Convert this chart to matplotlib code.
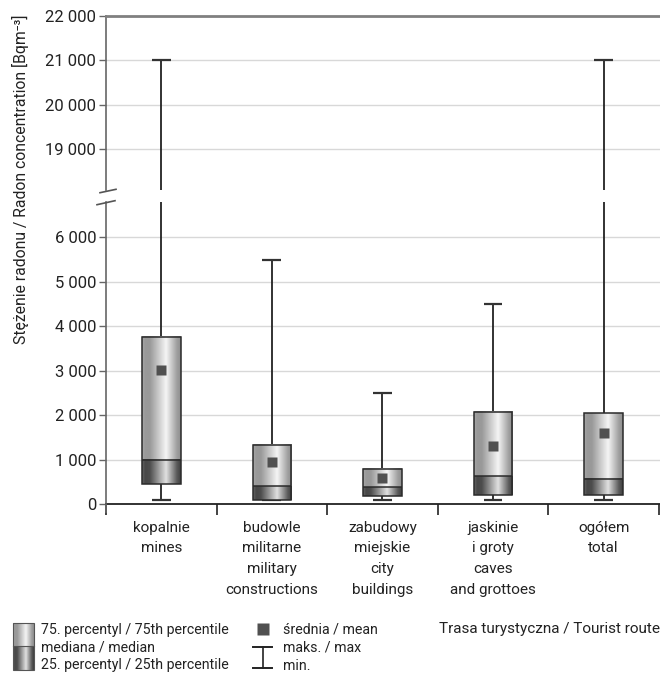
import numpy as np
import matplotlib
matplotlib.use("Agg")
import matplotlib.pyplot as plt
from matplotlib.lines import Line2D
from matplotlib.patches import Rectangle

plt.rcParams['font.family'] = ['Liberation Sans Narrow', 'Roboto', 'DejaVu Sans']

categories = ["kopalnie\nmines", "budowle\nmilitarne\nmilitary\nconstructions",
              "zabudowy\nmiejskie\ncity\nbuildings", "jaskinie\ni groty\ncaves\nand grottoes",
              "ogółem\ntotal"]
q1 = [440, 100, 190, 210, 195]
median = [980, 400, 375, 620, 570]
q3 = [3760, 1330, 780, 2080, 2040]
mins = [90, 80, 90, 90, 90]
maxs = [21000, 5500, 2500, 4500, 21000]
means = [3020, 950, 590, 1310, 1600]

lower_ticks = [0, 1000, 2000, 3000, 4000, 5000, 6000]
upper_ticks = [19000, 20000, 21000, 22000]

W, H = 660, 674
fig = plt.figure(figsize=(W / 100, H / 100), dpi=100)

def frac(x0, y0, x1, y1):
    return [x0 / W, 1 - y1 / H, (x1 - x0) / W, (y1 - y0) / H]

ax_lo = fig.add_axes(frac(106, 202, 660, 504))
ax_hi = fig.add_axes(frac(106, 16, 660, 190), sharex=ax_lo)

def fmt(v):
    return f"{v:,}".replace(",", " ")

def grad(levels):
    pos = np.linspace(0, 1, 200)
    g = np.interp(pos, [0, 0.08, 0.2, 0.62, 0.9, 1.0], levels)
    return np.stack([g, g, g], axis=-1)[None, :, :]

upper_grad = grad([0.66, 0.6, 0.6, 0.96, 0.62, 0.56])
lower_grad = grad([0.4, 0.28, 0.3, 0.88, 0.35, 0.25])

bw = 0.35
cap = 0.085
for ax in (ax_lo, ax_hi):
    for i in range(len(categories)):
        c = i + 0.5
        ax.vlines(c, q3[i], maxs[i], color='#222222', lw=1.3, zorder=2)
        ax.vlines(c, mins[i], q1[i], color='#222222', lw=1.3, zorder=2)
        ax.hlines([maxs[i], mins[i]], c - cap, c + cap, color='#333333', lw=1.6, zorder=2)
        ax.imshow(upper_grad, extent=[c - bw / 2, c + bw / 2, median[i], q3[i]],
                  aspect='auto', interpolation='bilinear', zorder=3)
        ax.imshow(lower_grad, extent=[c - bw / 2, c + bw / 2, q1[i], median[i]],
                  aspect='auto', interpolation='bilinear', zorder=3)
        ax.add_patch(Rectangle((c - bw / 2, q1[i]), bw, q3[i] - q1[i], fill=False,
                               ec='#2a2a2a', lw=1.1, zorder=4))
        ax.hlines(median[i], c - bw / 2, c + bw / 2, color='#2a2a2a', lw=1.1, zorder=4)
        ax.plot(c, means[i], 's', ms=7.4, color='#505050', mec='none', zorder=5)

ax_lo.set_xlim(0, 5.01)
ax_lo.set_ylim(0, 6794)
ax_hi.set_ylim(18085, 22000)

for ax, ticks in ((ax_lo, lower_ticks), (ax_hi, upper_ticks)):
    ax.set_yticks(ticks)
    ax.set_yticklabels([fmt(t) for t in ticks], fontsize=12, color='#222222')
    ax.tick_params(axis='y', length=5, width=1, color='#666666', pad=2)
    for t in ticks:
        if t not in (0, 22000):
            ax.axhline(t, color='#d8d8d8', lw=1, zorder=0)
    ax.spines['right'].set_visible(False)
    ax.spines['left'].set_color('#666666')
    ax.spines['left'].set_linewidth(1.2)
    ax.set_facecolor('none')

ax_hi.spines['bottom'].set_visible(False)
ax_hi.spines['top'].set_color('#808080')
ax_hi.spines['top'].set_linewidth(2)
ax_hi.tick_params(axis='x', which='both', bottom=False, labelbottom=False)

ax_lo.spines['top'].set_visible(False)
ax_lo.spines['bottom'].set_color('#222222')
ax_lo.spines['bottom'].set_linewidth(1.3)
ax_lo.set_xticks([i + 0.5 for i in range(len(categories))])
ax_lo.set_xticklabels(categories, fontsize=11, color='#222222', linespacing=1.62)
ax_lo.set_xticks(range(len(categories) + 1), minor=True)
ax_lo.tick_params(axis='x', which='major', length=0, pad=12)
ax_lo.tick_params(axis='x', which='minor', length=8, width=1.2, color='#222222')

ov = fig.add_axes([0, 0, 1, 1], zorder=10)
ov.axis('off')
ov.patch.set_alpha(0)

ov.add_line(Line2D([100, 116], [192.7, 189.3], color='#555555', lw=1.2))
ov.add_line(Line2D([97, 115], [204.7, 200.7], color='#555555', lw=1.2))
ov.add_line(Line2D([106, 106], [504, 512], color='#666666', lw=1.2))

fig.text(20 / W, 1 - 15 / H, "Stężenie radonu / Radon concentration [Bqm⁻³]",
         rotation=90, ha='center', va='top', fontsize=11.3, color='#222222')

ov.imshow(upper_grad, extent=[13, 34, 646, 623], aspect='auto', interpolation='bilinear')
ov.imshow(lower_grad, extent=[13, 34, 670, 646], aspect='auto', interpolation='bilinear')
ov.add_patch(Rectangle((13, 623), 21, 47, fill=False, ec='#555555', lw=0.8))
ov.add_line(Line2D([13, 34], [646, 646], color='#555555', lw=0.8))
ov.set_xlim(0, W)
ov.set_ylim(H, 0)

lt = dict(fontsize=10.2, color='#222222', va='center', ha='left')
ov.text(41, 630, "75. percentyl / 75th percentile", **lt)
ov.text(41, 648, "mediana / median", **lt)
ov.text(41, 665, "25. percentyl / 25th percentile", **lt)

ov.plot(262.5, 629, 's', ms=8, color='#505050', mec='none')
ov.add_line(Line2D([262.5, 262.5], [647, 668], color='#222222', lw=1.2))
ov.add_line(Line2D([253, 272], [647, 647], color='#222222', lw=1.4))
ov.add_line(Line2D([253, 272], [668, 668], color='#222222', lw=1.4))
ov.text(283, 630, "średnia / mean", **lt)
ov.text(283, 648, "maks. / max", **lt)
ov.text(283, 666, "min.", **lt)

ov.text(439, 629, "Trasa turystyczna / Tourist route", fontsize=11, color='#222222',
        va='center', ha='left')

fig.savefig("out.png", dpi=100)
